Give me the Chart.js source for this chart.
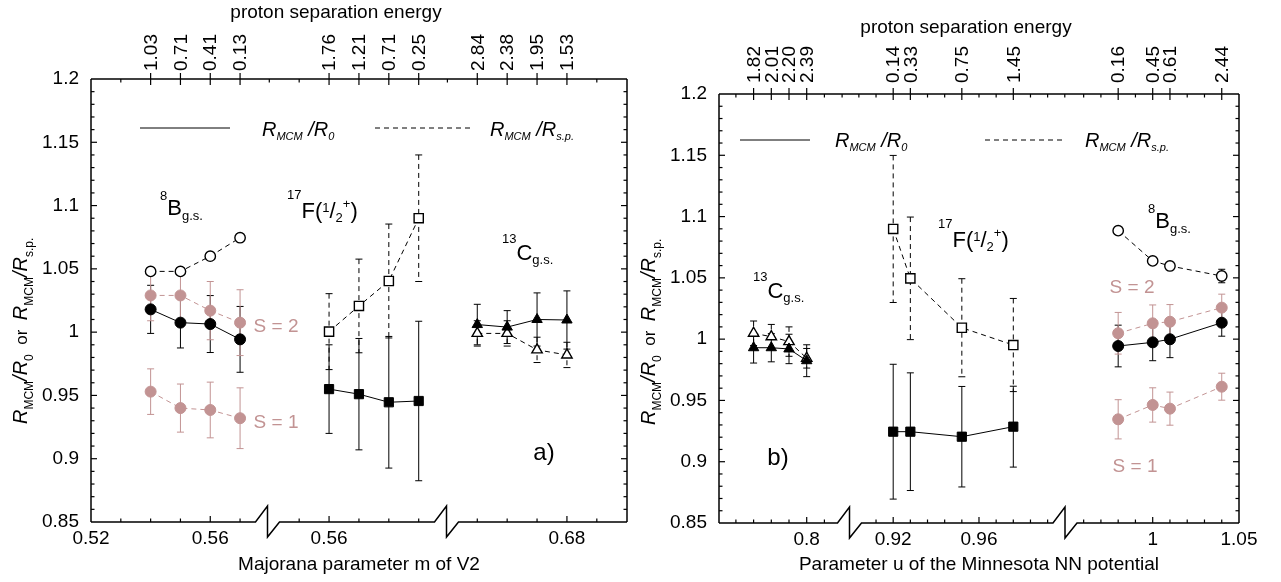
<!DOCTYPE html>
<html>
<head>
<meta charset="utf-8">
<title>R_MCM ratios</title>
<script src="https://cdn.jsdelivr.net/npm/chart.js@4.4.1/dist/chart.umd.min.js"></script>
<style>
  html, body { margin: 0; padding: 0; background: #fff; }
  #wrap { position: relative; width: 1281px; height: 582px; overflow: hidden; }
  .panel { position: absolute; top: 0; height: 582px; }
</style>
</head>
<body>
<div id="wrap">
  <div class="panel" style="left:0;width:640px"><canvas id="chartA"></canvas></div>
  <div class="panel" style="left:640px;width:641px"><canvas id="chartB"></canvas></div>
</div>
<script>
// ---------- panel a): Majorana parameter m of V2 ----------
const aSegMin = [0.52, 0.5394, 0.6397];
const aSegMax = [0.5792, 0.5993, 0.7001];
const aSegStep = [0.01, 0.01, 0.01];
const aSegLabels = [[0.52, 0.56], [0.56], [0.68]];

const aB_m = [0.54, 0.55, 0.56, 0.57];
const aB_sp = ['1.03', '0.71', '0.41', '0.13'];
const aB_r0 = [1.018, 1.0075, 1.0064, 0.9943];
const aB_r0Err = [0.019, 0.020, 0.0225, 0.026];
const aB_rsp = [1.048, 1.048, 1.060, 1.0746];
const aB_s2 = [1.029, 1.029, 1.017, 1.0075];
const aB_s2Err = [0.020, 0.020, 0.023, 0.026];
const aB_s1 = [0.953, 0.940, 0.9385, 0.932];
const aB_s1Err = [0.018, 0.019, 0.022, 0.024];

const aF_m = [0.56, 0.57, 0.58, 0.59];
const aF_sp = ['1.76', '1.21', '0.71', '0.25'];
const aF_r0 = [0.955, 0.951, 0.9446, 0.9456];
const aF_r0Err = [0.035, 0.044, 0.052, 0.063];
const aF_rsp = [1.0004, 1.0207, 1.0404, 1.090];
const aF_rspErr = [0.030, 0.037, 0.045, 0.050];

const aC_m = [0.65, 0.66, 0.67, 0.68];
const aC_sp = ['2.84', '2.38', '1.95', '1.53'];
const aC_r0 = [1.006, 1.004, 1.010, 1.0096];
const aC_r0Err = [0.016, 0.013, 0.021, 0.023];
const aC_rsp = [0.999, 0.999, 0.986, 0.982];
const aC_rspErr = [0.010, 0.010, 0.010, 0.010];

// ---------- panel b): parameter u of the Minnesota NN potential ----------
const bSegMin = [0.75045, 0.89963, 0.94919];
const bSegMax = [0.82418, 1.0001, 1.05];
const bSegStep = [0.01, 0.008, 0.01];
const bSegLabels = [[0.8], [0.92, 0.96], [1, 1.05]];

const bC_u = [0.77, 0.78, 0.79, 0.80];
const bC_sp = ['1.82', '2.01', '2.20', '2.39'];
const bC_r0 = [0.993, 0.993, 0.992, 0.9824];
const bC_r0Err = [0.0125, 0.0115, 0.012, 0.013];
const bC_rsp = [1.0048, 1.002, 0.998, 0.9844];
const bC_rspErr = [0.010, 0.010, 0.012, 0.008];

const bF_u = [0.92, 0.928, 0.952, 0.976];
const bF_sp = ['0.14', '0.33', '0.75', '1.45'];
const bF_r0 = [0.9245, 0.9245, 0.9204, 0.9286];
const bF_r0Err = [0.055, 0.048, 0.041, 0.033];
const bF_rsp = [1.0899, 1.0496, 1.0093, 0.9952];
const bF_rspErr = [0.060, 0.050, 0.040, 0.038];

const bB_u = [0.98, 1.0, 1.01, 1.04];
const bB_sp = ['0.16', '0.45', '0.61', '2.44'];
const bB_r0 = [0.9944, 0.9974, 0.9999, 1.0134];
const bB_r0Err = [0.017, 0.015, 0.015, 0.011];
const bB_rsp = [1.0885, 1.0638, 1.0597, 1.0515];
const bB_rspErr = [0, 0, 0, 0.0055];
const bB_s2 = [1.0048, 1.0129, 1.0142, 1.0257];
const bB_s2Err = [0.017, 0.015, 0.014, 0.011];
const bB_s1 = [0.9346, 0.9463, 0.9433, 0.9612];
const bB_s1Err = [0.016, 0.014, 0.0135, 0.011];

const yMin = 0.85, yMax = 1.2, yMajor = 0.05, yMinor = 0.01;

// ---------- styles ----------
const FONT = "'Liberation Sans', Arial, Helvetica, sans-serif";
const PINK = '#c29393';
Chart.defaults.font.family = FONT;
Chart.defaults.font.size = 19;
Chart.defaults.color = '#000';

const pts = (xs, ys) => xs.map((x, i) => ({x: x, y: ys[i]}));

function solidSet(ax, xs, ys, err, shape, r) {
  return { xAxisID: ax, data: pts(xs, ys), errors: err, errColor: '#000', errDash: [],
    borderColor: '#000', borderWidth: 1, pointStyle: shape, pointRadius: r,
    pointBackgroundColor: '#000', pointBorderColor: '#000', pointBorderWidth: 1 };
}
function openSet(ax, xs, ys, err, shape, r) {
  return { xAxisID: ax, data: pts(xs, ys), errors: err, errColor: '#000', errDash: [5, 4],
    borderColor: '#000', borderWidth: 1, borderDash: [5, 4], pointStyle: shape, pointRadius: r,
    pointBackgroundColor: '#fff', pointBorderColor: '#000', pointBorderWidth: 1.4 };
}
function pinkSet(ax, xs, ys, err) {
  return { xAxisID: ax, data: pts(xs, ys), errors: err, errColor: PINK, errDash: [],
    borderColor: PINK, borderWidth: 1, borderDash: [5, 4], pointStyle: 'circle', pointRadius: 5.5,
    pointBackgroundColor: PINK, pointBorderColor: PINK, pointBorderWidth: 1 };
}

function drawRuns(ctx, runs, x, y, rot, color) {
  ctx.save();
  ctx.translate(x, y);
  if (rot) ctx.rotate(rot);
  ctx.textAlign = 'left';
  ctx.textBaseline = 'alphabetic';
  ctx.fillStyle = color || '#000';
  let cx = 0;
  runs.forEach(r => {
    ctx.font = (r[3] ? 'italic ' : '') + r[1] + 'px ' + FONT;
    ctx.fillText(r[0], cx, r[2] || 0);
    cx += ctx.measureText(r[0]).width;
  });
  ctx.restore();
}

const runsR0 = [['R', 20, 0, 1], ['MCM', 11, 4, 1], [' /R', 20, 0, 1], ['0', 11, 4, 1]];
const runsRsp = [['R', 20, 0, 1], ['MCM', 11, 4, 1], [' /R', 20, 0, 1], ['s.p.', 11, 4, 1]];
const runsYLab = [['R', 20, 0, 1], ['MCM', 12, 6], ['/R', 20, 0, 1], ['0', 12, 6], ['  or  ', 17, 0],
  ['R', 20, 0, 1], ['MCM', 12, 6], ['/R', 20, 0, 1], ['s.p.', 12, 6]];
const runs8B = [['8', 13, -15], ['B', 22, 0], ['g.s.', 13, 5]];
const runs17F = [['17', 13, -19], ['F', 22, 0], ['(', 22, 0], ['1', 13, -6], ['/', 22, 0], ['2', 13, 4], ['+', 13, -10], [')', 22, 0]];
const runs13C = [['13', 13, -17], ['C', 22, 0], ['g.s.', 13, 4]];

// decorations: frame with axis breaks, inward ticks, top axis, error bars, labels
function decor(P) {
  const line = (ctx, x1, y1, x2, y2) => { ctx.beginPath(); ctx.moveTo(x1, y1); ctx.lineTo(x2, y2); ctx.stroke(); };
  return {
    id: 'decor',
    beforeDatasetsDraw(chart) {
      const ctx = chart.ctx, ys = chart.scales.y;
      chart.data.datasets.forEach(ds => {
        const xs = chart.scales[ds.xAxisID];
        ctx.save();
        ctx.strokeStyle = ds.errColor;
        ctx.lineWidth = 1;
        ds.data.forEach((p, i) => {
          const e = ds.errors[i];
          if (!e) return;
          const px = xs.getPixelForValue(p.x);
          const y1 = ys.getPixelForValue(p.y + e), y2 = ys.getPixelForValue(p.y - e);
          ctx.setLineDash(ds.errDash);
          line(ctx, px, y1, px, y2);
          ctx.setLineDash([]);
          line(ctx, px - 3.5, y1, px + 3.5, y1);
          line(ctx, px - 3.5, y2, px + 3.5, y2);
        });
        ctx.restore();
      });
    },
    afterDraw(chart) {
      const ctx = chart.ctx, ys = chart.scales.y;
      const {left, right, top, bottom} = chart.chartArea;
      const n = P.segMin.length, h = P.brkHalf;
      const segs = P.segMin.map((_, i) => chart.scales['x' + i]);
      ctx.save();
      ctx.strokeStyle = '#000';
      ctx.fillStyle = '#000';
      ctx.lineWidth = 1.5;
      ctx.setLineDash([]);
      // frame
      line(ctx, left, top, right, top);
      line(ctx, left, top, left, bottom);
      line(ctx, right, top, right, bottom);
      ctx.beginPath();
      ctx.moveTo(left, bottom);
      for (let i = 1; i < n; i++) {
        const b = segs[i].left;
        ctx.lineTo(b - h, bottom);
        ctx.lineTo(b, bottom - 16);
        ctx.lineTo(b, bottom + 15);
        ctx.lineTo(b + h, bottom);
      }
      ctx.lineTo(right, bottom);
      ctx.stroke();

      ctx.lineWidth = 1.2;
      // y ticks on both sides
      for (let k = Math.round(yMin / yMinor) + 1; k < Math.round(yMax / yMinor); k++) {
        const py = ys.getPixelForValue(k * yMinor);
        const len = (k % Math.round(yMajor / yMinor) === 0) ? 6 : 3.5;
        line(ctx, left, py, left + len, py);
        line(ctx, right, py, right - len, py);
      }
      // bottom ticks on the unbroken parts
      segs.forEach((s, i) => {
        const a = i === 0 ? left : s.left + h;
        const b = i === n - 1 ? right : segs[i + 1].left - h;
        const st = P.segStep[i];
        for (let k = Math.ceil(P.segMin[i] / st - 1e-6); k <= Math.floor(P.segMax[i] / st + 1e-6); k++) {
          const v = k * st, px = s.getPixelForValue(v);
          if (px < a + 1.5 || px > b - 1.5) continue;
          const major = P.segLabels[i].some(m => Math.abs(m - v) < 1e-6);
          line(ctx, px, bottom, px, bottom - (major ? 6 : 3.5));
        }
      });
      // top axis: minor ticks and crossing ticks at the data positions
      const dataPx = [];
      P.tops.forEach(g => g.xs.forEach(x => dataPx.push(chart.scales[g.ax].getPixelForValue(x))));
      const minorPx = [];
      segs.forEach((s, i) => {
        const st = P.segStep[i];
        for (let k = Math.ceil(P.segMin[i] / st - 1e-6); k <= Math.floor(P.segMax[i] / st + 1e-6); k++) {
          const px = s.getPixelForValue(k * st);
          if (px < s.left || px > s.right) continue;
          if (px < left + 1.5 || px > right - 1.5) continue;
          if (dataPx.some(d => Math.abs(d - px) < 3)) continue;
          if (minorPx.some(d => Math.abs(d - px) < 3)) continue;
          minorPx.push(px);
        }
      });
      minorPx.forEach(px => line(ctx, px, top, px, top + 3.5));
      dataPx.forEach(px => line(ctx, px, top - 6, px, top + 6));
      // top labels (proton separation energy)
      ctx.font = '19px ' + FONT;
      P.tops.forEach(g => g.xs.forEach((x, i) => {
        const px = chart.scales[g.ax].getPixelForValue(x);
        ctx.save();
        ctx.translate(px, top - P.labelGap);
        ctx.rotate(-Math.PI / 2);
        ctx.textAlign = 'left';
        ctx.textBaseline = 'middle';
        ctx.fillText(g.labels[i], 0, 1);
        ctx.restore();
      }));
      // titles
      const ox = P.ox;
      ctx.textAlign = 'center';
      ctx.textBaseline = 'middle';
      ctx.fillText('proton separation energy', P.title[0] - ox, P.title[1]);
      ctx.fillText(P.xTitle, P.xTitlePos[0] - ox, P.xTitlePos[1]);
      drawRuns(ctx, runsYLab, P.yLab[0] - ox, P.yLab[1], -Math.PI / 2);
      // legend
      const L = P.legend;
      ctx.lineWidth = 1;
      line(ctx, L.solid[0] - ox, L.y, L.solid[1] - ox, L.y);
      ctx.setLineDash([5, 4]);
      line(ctx, L.dashed[0] - ox, L.y, L.dashed[1] - ox, L.y);
      ctx.setLineDash([]);
      drawRuns(ctx, runsR0, L.t1 - ox, L.base);
      drawRuns(ctx, runsRsp, L.t2 - ox, L.base);
      // nucleus labels
      P.notes.forEach(nt => drawRuns(ctx, nt.runs, nt.x - ox, nt.y));
      P.texts.forEach(t => {
        ctx.font = t.size + 'px ' + FONT;
        ctx.fillStyle = t.color || '#000';
        ctx.textAlign = 'center';
        ctx.textBaseline = 'middle';
        ctx.fillText(t.text, t.x - ox, t.y);
      });
      ctx.restore();
    }
  };
}

function buildChart(id, P, datasets) {
  const scales = {
    y: {
      type: 'linear', position: 'left', min: yMin, max: yMax,
      ticks: { stepSize: yMajor, padding: 12, color: '#000', font: { size: 19 },
        callback: v => String(+v.toFixed(2)) },
      grid: { display: false, drawTicks: false }, border: { display: false },
      afterFit: s => { s.width = P.yW; }
    }
  };
  P.segMin.forEach((mn, i) => {
    scales['x' + i] = {
      type: 'linear', position: 'bottom', stack: 'xb', stackWeight: P.weights[i],
      min: mn, max: P.segMax[i],
      afterBuildTicks: s => { s.ticks = P.segLabels[i].map(v => ({ value: v })); },
      ticks: { autoSkip: false, minRotation: 0, maxRotation: 0, padding: 5, color: '#000',
        font: { size: 19 }, callback: v => String(v) },
      grid: { display: false, drawTicks: false }, border: { display: false },
      afterFit: s => { s.height = P.bottomH; }
    };
  });
  return new Chart(document.getElementById(id), {
    type: 'line',
    data: { datasets: datasets },
    options: {
      responsive: true, maintainAspectRatio: false, animation: false, events: [],
      layout: { padding: { left: 0, right: P.padRight, top: P.padTop, bottom: 0 } },
      plugins: { legend: { display: false }, tooltip: { enabled: false } },
      scales: scales
    },
    plugins: [decor(P)]
  });
}

const panelA = {
  ox: 0, padTop: 79, padRight: 13, yW: 91, bottomH: 60,
  segMin: aSegMin, segMax: aSegMax, segStep: aSegStep, segLabels: aSegLabels,
  weights: [176.5, 179, 180.5], brkHalf: 12, labelGap: 8,
  tops: [{ ax: 'x0', xs: aB_m, labels: aB_sp }, { ax: 'x1', xs: aF_m, labels: aF_sp }, { ax: 'x2', xs: aC_m, labels: aC_sp }],
  title: [336, 13], xTitle: 'Majorana parameter m of V2', xTitlePos: [359, 565], yLab: [27, 424],
  legend: { y: 128, solid: [140, 230], dashed: [375, 470], t1: 262, t2: 490, base: 136 },
  notes: [{ x: 160, y: 215, runs: runs8B }, { x: 287, y: 218, runs: runs17F }, { x: 502, y: 260, runs: runs13C }],
  texts: [{ text: 'S = 2', x: 276, y: 327, size: 19, color: PINK }, { text: 'S = 1', x: 276, y: 423, size: 19, color: PINK },
    { text: 'a)', x: 544, y: 453, size: 24 }]
};

const panelB = {
  ox: 640, padTop: 94, padRight: 42, yW: 79, bottomH: 59,
  segMin: bSegMin, segMax: bSegMax, segStep: bSegStep, segLabels: bSegLabels,
  weights: [130.5, 215.5, 174], brkHalf: 12, labelGap: 11,
  tops: [{ ax: 'x0', xs: bC_u, labels: bC_sp }, { ax: 'x1', xs: bF_u, labels: bF_sp }, { ax: 'x2', xs: bB_u, labels: bB_sp }],
  title: [966, 28], xTitle: 'Parameter u of the Minnesota NN potential', xTitlePos: [979, 565], yLab: [655, 425],
  legend: { y: 140, solid: [740, 810], dashed: [985, 1065], t1: 835, t2: 1085, base: 147 },
  notes: [{ x: 753, y: 298, runs: runs13C }, { x: 938, y: 247, runs: runs17F }, { x: 1148, y: 228, runs: runs8B }],
  texts: [{ text: 'S = 2', x: 1132, y: 288, size: 19, color: PINK }, { text: 'S = 1', x: 1135, y: 467, size: 19, color: PINK },
    { text: 'b)', x: 778, y: 458, size: 24 }]
};

buildChart('chartA', panelA, [
  solidSet('x0', aB_m, aB_r0, aB_r0Err, 'circle', 5.5),
  openSet('x0', aB_m, aB_rsp, [0, 0, 0, 0], 'circle', 5.2),
  solidSet('x1', aF_m, aF_r0, aF_r0Err, 'rect', 6.5),
  openSet('x1', aF_m, aF_rsp, aF_rspErr, 'rect', 6.5),
  solidSet('x2', aC_m, aC_r0, aC_r0Err, 'triangle', 6),
  openSet('x2', aC_m, aC_rsp, aC_rspErr, 'triangle', 6),
  pinkSet('x0', aB_m, aB_s2, aB_s2Err),
  pinkSet('x0', aB_m, aB_s1, aB_s1Err)
]);

buildChart('chartB', panelB, [
  solidSet('x0', bC_u, bC_r0, bC_r0Err, 'triangle', 6),
  openSet('x0', bC_u, bC_rsp, bC_rspErr, 'triangle', 6),
  solidSet('x1', bF_u, bF_r0, bF_r0Err, 'rect', 6.5),
  openSet('x1', bF_u, bF_rsp, bF_rspErr, 'rect', 6.5),
  solidSet('x2', bB_u, bB_r0, bB_r0Err, 'circle', 5.5),
  openSet('x2', bB_u, bB_rsp, bB_rspErr, 'circle', 5.2),
  pinkSet('x2', bB_u, bB_s2, bB_s2Err),
  pinkSet('x2', bB_u, bB_s1, bB_s1Err)
]);
</script>
</body>
</html>
